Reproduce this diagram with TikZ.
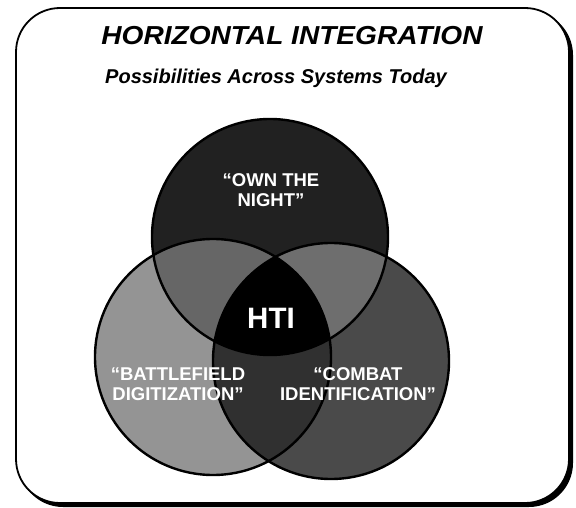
\documentclass[tikz,border=0pt]{standalone}
\usepackage{fontspec}
\setmainfont{Liberation Sans}
\newfontfamily\titlefont[FakeStretch=1.08]{Liberation Sans}
\definecolor{topc}{gray}{0.13}
\definecolor{leftc}{gray}{0.58}
\definecolor{rightc}{gray}{0.29}
\definecolor{tlc}{gray}{0.40}
\definecolor{trc}{gray}{0.43}
\definecolor{lrc}{gray}{0.19}
\tikzset{
  ring/.style={draw=black, line width=2.4pt},
  lbl/.style={text=white, font=\fontsize{18.5}{19.5}\selectfont\bfseries, align=center, inner sep=0pt},
}
\begin{document}
\begin{tikzpicture}[x=1pt,y=-1pt]
\useasboundingbox (0,0) rectangle (576,508);
% frame with shadow
\fill[black, rounded corners=44pt] (19,11) rectangle (573,507);
\fill[white, draw=black, line width=1.8pt, rounded corners=44pt] (16,8) rectangle (569,503);
% circle centres
\coordinate (T) at (270,237);
\coordinate (L) at (213,357);
\coordinate (R) at (331,361);
\def\rad{118pt}
% fills
\fill[leftc] (L) circle[radius=\rad];
\fill[rightc] (R) circle[radius=\rad];
\fill[topc] (T) circle[radius=\rad];
\begin{scope}
  \clip (L) circle[radius=\rad];
  \fill[lrc] (R) circle[radius=\rad];
\end{scope}
\begin{scope}
  \clip (T) circle[radius=\rad];
  \fill[tlc] (L) circle[radius=\rad];
  \fill[trc] (R) circle[radius=\rad];
\end{scope}
\begin{scope}
  \clip (T) circle[radius=\rad];
  \clip (L) circle[radius=\rad];
  \fill[black] (R) circle[radius=\rad];
\end{scope}
% outlines
\draw[ring] (T) circle[radius=\rad];
\draw[ring] (L) circle[radius=\rad];
\draw[ring] (R) circle[radius=\rad];
% texts
\node[font=\titlefont\fontsize{26}{30}\selectfont\bfseries\itshape, inner sep=0pt] (title) at (292,36) {HORIZONTAL INTEGRATION};
\node[font=\fontsize{20}{22}\selectfont\bfseries\itshape, inner sep=0pt] (sub) at (276,78) {Possibilities Across Systems Today};
\node[lbl] (own) at (271,190) {“OWN THE\\NIGHT”};
\node[text=white, font=\fontsize{29.5}{30}\selectfont\bfseries, inner sep=0pt] (hti) at (271,318) {HTI};
\node[lbl] (bd) at (178,384) {“BATTLEFIELD\\DIGITIZATION”};
\node[lbl] (ci) at (358,384) {“COMBAT\\IDENTIFICATION”};
\end{tikzpicture}
\end{document}
